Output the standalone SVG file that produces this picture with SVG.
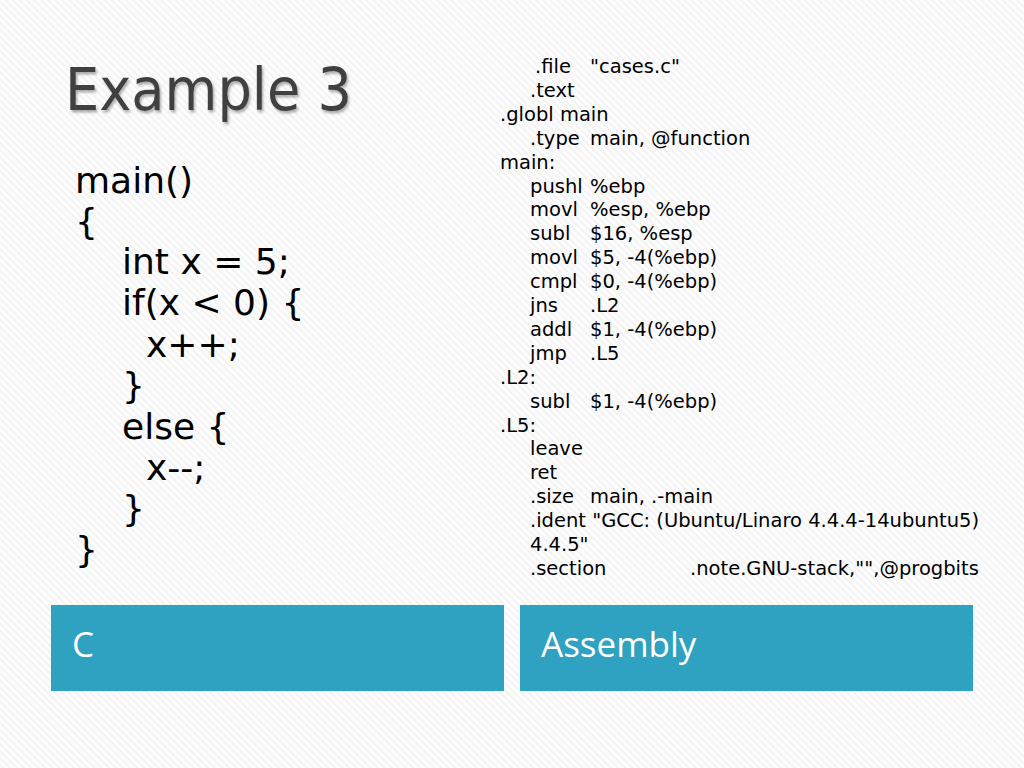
<svg xmlns="http://www.w3.org/2000/svg" width="1024" height="768" viewBox="0 0 1024 768">
  <defs>
    <pattern id="stripes" width="5" height="5" patternUnits="userSpaceOnUse" patternTransform="rotate(45)">
      <rect width="5" height="5" fill="#fdfdfd"/>
      <rect width="5" height="2" fill="#f3f3f3"/>
    </pattern>
    <filter id="shadow" x="-10%" y="-20%" width="120%" height="150%">
      <feDropShadow dx="1.5" dy="2.5" stdDeviation="1.2" flood-color="#000" flood-opacity="0.3"/>
    </filter>
  </defs>
  <style>
    .title { font-family: "DejaVu Sans", sans-serif; font-size: 58px; fill: #404040; }
    .c { font-family: "DejaVu Sans", sans-serif; font-size: 36px; fill: #000; }
    .asm { font-family: "DejaVu Sans", sans-serif; font-size: 19.5px; fill: #000; }
    .box { fill: #2ea2c0; }
    .label { font-family: "Open Sans", sans-serif; font-size: 35px; fill: #ffffff; }
  </style>
  <rect width="1024" height="768" fill="url(#stripes)"/>

  <g id="title">
    <text class="title" x="65" y="110" textLength="287" lengthAdjust="spacingAndGlyphs" filter="url(#shadow)">Example 3</text>
  </g>

  <g id="c-code">
    <text class="c" x="75" y="193">main()</text>
    <text class="c" x="75" y="234">{</text>
    <text class="c" x="122" y="274">int x = 5;</text>
    <text class="c" x="122" y="315">if(x &lt; 0) {</text>
    <text class="c" x="146" y="357">x++;</text>
    <text class="c" x="122" y="398">}</text>
    <text class="c" x="122" y="439">else {</text>
    <text class="c" x="146" y="480">x--;</text>
    <text class="c" x="122" y="521">}</text>
    <text class="c" x="75" y="562">}</text>
  </g>

  <g id="asm-code">
    <text class="asm" x="535" y="73">.file</text><text class="asm" x="590" y="73">"cases.c"</text>
    <text class="asm" x="530" y="96.9">.text</text>
    <text class="asm" x="500" y="120.8">.globl main</text>
    <text class="asm" x="530" y="144.7">.type</text><text class="asm" x="590" y="144.7">main, @function</text>
    <text class="asm" x="500" y="168.6">main:</text>
    <text class="asm" x="530" y="192.5">pushl</text><text class="asm" x="590" y="192.5">%ebp</text>
    <text class="asm" x="530" y="216.4">movl</text><text class="asm" x="590" y="216.4">%esp, %ebp</text>
    <text class="asm" x="530" y="240.3">subl</text><text class="asm" x="590" y="240.3">$16, %esp</text>
    <text class="asm" x="530" y="264.2">movl</text><text class="asm" x="590" y="264.2">$5, -4(%ebp)</text>
    <text class="asm" x="530" y="288.1">cmpl</text><text class="asm" x="590" y="288.1">$0, -4(%ebp)</text>
    <text class="asm" x="530" y="312">jns</text><text class="asm" x="590" y="312">.L2</text>
    <text class="asm" x="530" y="335.9">addl</text><text class="asm" x="590" y="335.9">$1, -4(%ebp)</text>
    <text class="asm" x="530" y="359.8">jmp</text><text class="asm" x="590" y="359.8">.L5</text>
    <text class="asm" x="500" y="383.7">.L2:</text>
    <text class="asm" x="530" y="407.6">subl</text><text class="asm" x="590" y="407.6">$1, -4(%ebp)</text>
    <text class="asm" x="500" y="431.5">.L5:</text>
    <text class="asm" x="530" y="455.4">leave</text>
    <text class="asm" x="530" y="479.3">ret</text>
    <text class="asm" x="530" y="503.2">.size</text><text class="asm" x="590" y="503.2">main, .-main</text>
    <text class="asm" x="530" y="527.1">.ident "GCC: (Ubuntu/Linaro 4.4.4-14ubuntu5)</text>
    <text class="asm" x="530" y="551">4.4.5"</text>
    <text class="asm" x="530" y="574.9">.section</text><text class="asm" x="690" y="574.9">.note.GNU-stack,"",@progbits</text>
  </g>

  <g id="box-c">
    <rect class="box" x="51" y="605" width="453" height="86"/>
    <text class="label" x="72" y="657">C</text>
  </g>

  <g id="box-assembly">
    <rect class="box" x="520" y="605" width="453" height="86"/>
    <text class="label" x="541" y="657">Assembly</text>
  </g>
</svg>
